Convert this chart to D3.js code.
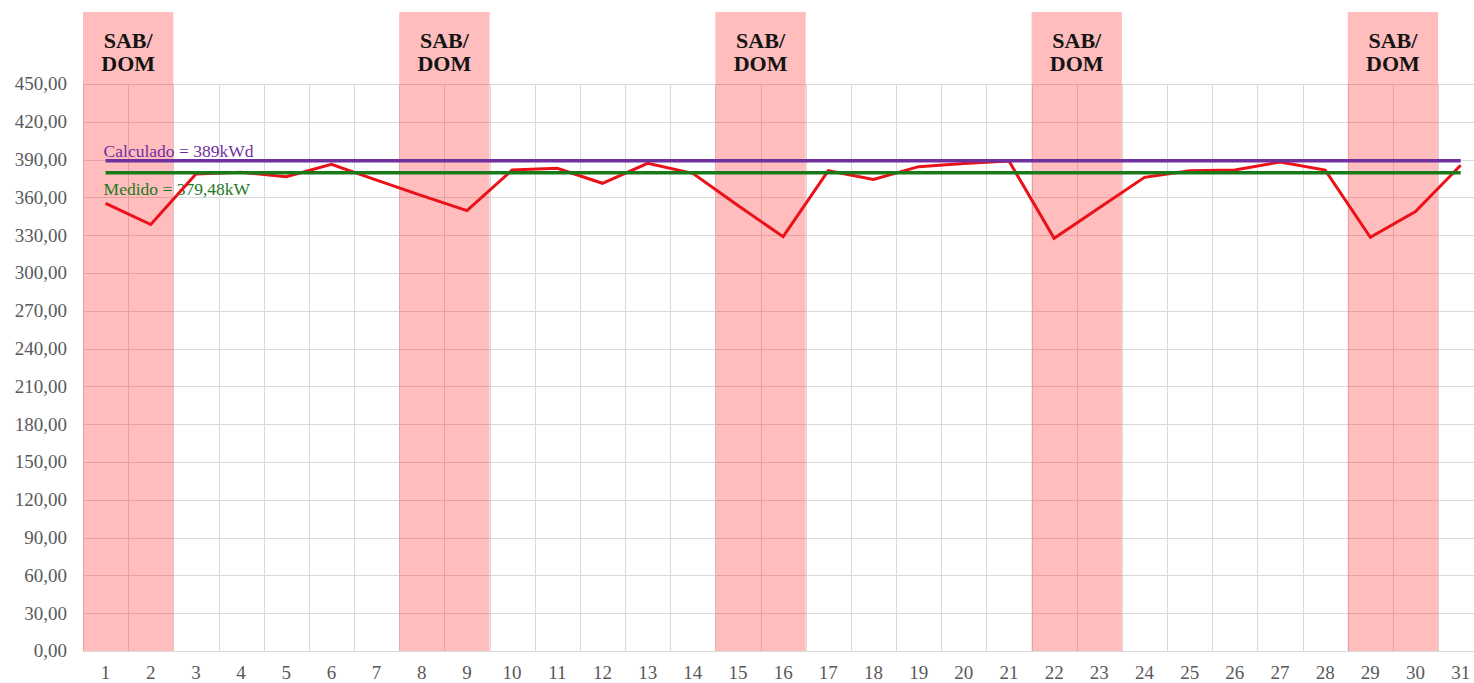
<!DOCTYPE html>
<html>
<head>
<meta charset="utf-8">
<script src="https://cdn.jsdelivr.net/npm/d3@7"></script>
<style>
  html, body { margin: 0; padding: 0; background: #ffffff; }
  svg { display: block; }
</style>
</head>
<body>
<svg id="chart" width="1474" height="683"></svg>
<script>
// Days of the month
const days = [1, 2, 3, 4, 5, 6, 7, 8, 9, 10, 11, 12, 13, 14, 15, 16,
              17, 18, 19, 20, 21, 22, 23, 24, 25, 26, 27, 28, 29, 30, 31];

// Daily measured demand (kW)
const demanda = [355.3, 338.5, 378.6, 380.0, 376.4, 386.3, 373.7, 361.4, 349.5, 381.7,
                 383.1, 371.2, 387.0, 379.1, 353.5, 328.8, 381.2, 374.3, 384.4, 387.0,
                 388.9, 327.5, 351.7, 375.9, 381.2, 381.7, 388.1, 381.7, 328.3, 348.7,
                 385.5];

// Weekend pairs (Saturday / Sunday)
const fimDeSemana = [[1, 2], [8, 9], [15, 16], [22, 23], [29, 30]];
const fimDeSemanaRotulo = ["SAB/", "DOM"];

// Reference levels
const calculado = 389;
const medido = 379.48;
const calculadoRotulo = "Calculado = 389kWd";
const medidoRotulo = "Medido = 379,48kW";

// Y axis ticks
const yTicks = [0, 30, 60, 90, 120, 150, 180, 210, 240, 270, 300, 330, 360, 390, 420, 450];

const svg = d3.select("#chart");
const W = 1474, H = 683;
const plotLeft = 83, plotTop = 84, plotBottom = 651;
const cell = 45.17;

const x = d3.scaleBand()
  .domain(days)
  .range([plotLeft, plotLeft + days.length * cell])
  .padding(0);

const y = d3.scaleLinear()
  .domain([0, 450])
  .range([plotBottom, plotTop]);

const fmt = v => d3.format(".2f")(v).replace(".", ",");
const serif = "Liberation Serif, Times New Roman, serif";

// Grid
const grid = svg.append("g");
grid.selectAll("line.h")
  .data(yTicks)
  .join("line")
  .attr("class", "h")
  .attr("x1", plotLeft).attr("x2", W)
  .attr("y1", d => Math.round(y(d)) + 0.5)
  .attr("y2", d => Math.round(y(d)) + 0.5)
  .attr("stroke", "#d9d9d9")
  .attr("stroke-width", 1);

grid.selectAll("line.v")
  .data(days.concat([null]))
  .join("line")
  .attr("class", "v")
  .attr("x1", (d, i) => Math.round(plotLeft + i * x.bandwidth()) + 0.5)
  .attr("x2", (d, i) => Math.round(plotLeft + i * x.bandwidth()) + 0.5)
  .attr("y1", y(450))
  .attr("y2", y(0))
  .attr("stroke", "#d9d9d9")
  .attr("stroke-width", 1);

// Weekend bands
const bandTop = 12;
const bands = svg.append("g");
bands.selectAll("rect")
  .data(fimDeSemana)
  .join("rect")
  .attr("x", d => x(d[0]))
  .attr("y", bandTop)
  .attr("width", d => x(d[1]) + x.bandwidth() - x(d[0]))
  .attr("height", y(0) - bandTop)
  .attr("fill", "#ff0000")
  .attr("fill-opacity", 0.26);

const bandText = bands.selectAll("text")
  .data(fimDeSemana)
  .join("text")
  .attr("x", d => (x(d[0]) + x(d[1]) + x.bandwidth()) / 2)
  .attr("y", 48)
  .attr("text-anchor", "middle")
  .attr("font-family", serif)
  .attr("font-weight", "bold")
  .attr("font-size", 22)
  .attr("fill", "#141414");
bandText.selectAll("tspan")
  .data(fimDeSemanaRotulo)
  .join("tspan")
  .attr("x", function () { return d3.select(this.parentNode).attr("x"); })
  .attr("dy", (d, i) => i === 0 ? 0 : 23)
  .text(d => d);

// Y axis labels
svg.append("g")
  .selectAll("text")
  .data(yTicks)
  .join("text")
  .attr("x", 67)
  .attr("y", d => y(d))
  .attr("dy", "0.34em")
  .attr("text-anchor", "end")
  .attr("font-family", serif)
  .attr("font-size", 19)
  .attr("fill", "#595959")
  .text(fmt);

// X axis labels
svg.append("g")
  .selectAll("text")
  .data(days)
  .join("text")
  .attr("x", d => x(d) + x.bandwidth() / 2)
  .attr("y", 678.5)
  .attr("text-anchor", "middle")
  .attr("font-family", serif)
  .attr("font-size", 19)
  .attr("fill", "#595959")
  .text(d => d);

// Reference labels
const xStart = x(days[0]) + x.bandwidth() / 2;
const xEnd = x(days[days.length - 1]) + x.bandwidth() / 2;

svg.append("text")
  .attr("x", xStart - 2)
  .attr("y", y(calculado) - 4)
  .attr("font-family", serif)
  .attr("font-size", 17.5)
  .attr("fill", "#7030a0")
  .text(calculadoRotulo);

svg.append("text")
  .attr("x", xStart - 2)
  .attr("y", y(medido) + 22)
  .attr("font-family", serif)
  .attr("font-size", 17.5)
  .attr("fill", "#1e7a1e")
  .text(medidoRotulo);

// Daily demand line
const line = d3.line()
  .x((d, i) => x(days[i]) + x.bandwidth() / 2)
  .y(d => y(d));

svg.append("path")
  .datum(demanda)
  .attr("d", line)
  .attr("fill", "none")
  .attr("stroke", "#ea1119")
  .attr("stroke-width", 3)
  .attr("stroke-linejoin", "miter");

// Reference lines
svg.append("line")
  .attr("x1", xStart).attr("x2", xEnd)
  .attr("y1", y(calculado)).attr("y2", y(calculado))
  .attr("stroke", "#7030a0")
  .attr("stroke-width", 3.5);

svg.append("line")
  .attr("x1", xStart).attr("x2", xEnd)
  .attr("y1", y(medido)).attr("y2", y(medido))
  .attr("stroke", "#1a7a1a")
  .attr("stroke-width", 3.5);
</script>
</body>
</html>
